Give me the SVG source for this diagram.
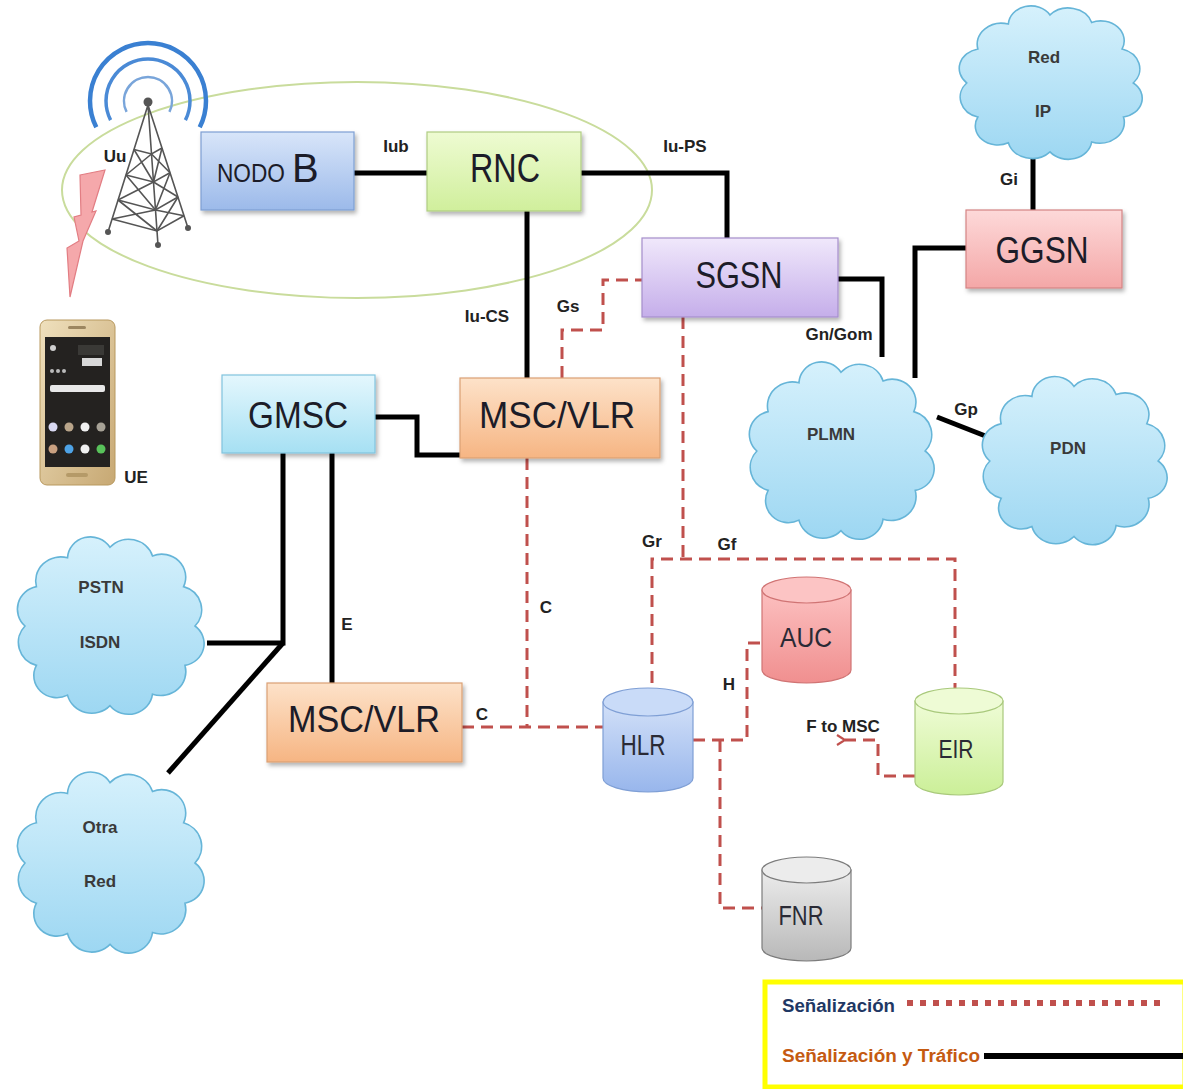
<svg xmlns="http://www.w3.org/2000/svg" xmlns:xlink="http://www.w3.org/1999/xlink" width="1183" height="1089" viewBox="0 0 1183 1089">
  <style>
    .box-text { font-family: "Liberation Sans", Arial, sans-serif; fill: #1c1c28; }
    .lbl { font-family: "Liberation Sans", Arial, sans-serif; font-weight: bold; font-size: 17px; fill: #222; text-anchor: middle; }
    .cloud-text { font-family: "Liberation Sans", Arial, sans-serif; font-weight: bold; font-size: 17px; fill: #3a3a3a; text-anchor: middle; }
    .traffic { fill: none; stroke: #000; stroke-width: 5; stroke-linejoin: miter; stroke-linecap: butt; }
    .signal { fill: none; stroke: #c0504d; stroke-width: 3; stroke-dasharray: 12 7; }
    .cyl-text { font-family: "Liberation Sans", Arial, sans-serif; fill: #2a2a35; text-anchor: middle; }
  </style>
  <defs>
    <filter id="shadow" x="-10%" y="-10%" width="130%" height="140%">
      <feDropShadow dx="2" dy="3" stdDeviation="2" flood-color="#000" flood-opacity="0.3"/>
    </filter>
    <linearGradient id="gNodoB" x1="0" y1="0" x2="0" y2="1"><stop offset="0" stop-color="#d8e5f9"/><stop offset="1" stop-color="#9cbaea"/></linearGradient>
    <linearGradient id="gRnc" x1="0" y1="0" x2="0" y2="1"><stop offset="0" stop-color="#eefbd2"/><stop offset="1" stop-color="#d0ef9c"/></linearGradient>
    <linearGradient id="gSgsn" x1="0" y1="0" x2="0" y2="1"><stop offset="0" stop-color="#f0e8fb"/><stop offset="1" stop-color="#c5aeea"/></linearGradient>
    <linearGradient id="gGgsn" x1="0" y1="0" x2="0" y2="1"><stop offset="0" stop-color="#fdd9d9"/><stop offset="1" stop-color="#f4a7a7"/></linearGradient>
    <linearGradient id="gMsc" x1="0" y1="0" x2="0" y2="1"><stop offset="0" stop-color="#fde2c9"/><stop offset="1" stop-color="#f6b583"/></linearGradient>
    <linearGradient id="gGmsc" x1="0" y1="0" x2="0" y2="1"><stop offset="0" stop-color="#e4f7fd"/><stop offset="1" stop-color="#a6e0f3"/></linearGradient>
    <linearGradient id="gHlr" x1="0" y1="0" x2="0" y2="1"><stop offset="0" stop-color="#d2e0f8"/><stop offset="1" stop-color="#98b6ec"/></linearGradient>
    <linearGradient id="gAuc" x1="0" y1="0" x2="0" y2="1"><stop offset="0" stop-color="#fcc0c0"/><stop offset="1" stop-color="#f08f8f"/></linearGradient>
    <linearGradient id="gEir" x1="0" y1="0" x2="0" y2="1"><stop offset="0" stop-color="#effcd6"/><stop offset="1" stop-color="#cbef98"/></linearGradient>
    <linearGradient id="gFnr" x1="0" y1="0" x2="0" y2="1"><stop offset="0" stop-color="#ececec"/><stop offset="1" stop-color="#b8b8b8"/></linearGradient>
    <linearGradient id="gCloud" x1="0" y1="0" x2="0" y2="1"><stop offset="0" stop-color="#d6f1fc"/><stop offset="1" stop-color="#9dd7f2"/></linearGradient>
    <linearGradient id="gPhone" x1="0" y1="0" x2="1" y2="1"><stop offset="0" stop-color="#efe0bd"/><stop offset="1" stop-color="#c7a873"/></linearGradient>
    <!-- bumpy cloud outline in a 200x200 box -->
    <path id="cloud" d="M100,18 A25,25 0 0 1 142.5,27 A24,24 0 0 1 173.6,59 A25,25 0 0 1 185,100 A23,23 0 0 1 175,141 A25,25 0 0 1 142.5,171 A24,24 0 0 1 100,183 A25,25 0 0 1 57.5,172 A23,23 0 0 1 26.4,141 A25,25 0 0 1 15,100 A24,24 0 0 1 26.4,59 A25,25 0 0 1 57.5,29 A23,23 0 0 1 100,18 Z" fill="url(#gCloud)" stroke="#66b5d8" stroke-width="1.6" vector-effect="non-scaling-stroke"/>
    <marker id="arrowRed" viewBox="0 0 12 12" refX="2" refY="6" markerWidth="12" markerHeight="12" markerUnits="userSpaceOnUse" orient="auto">
      <path d="M10,1 L2,6 L10,11" fill="none" stroke="#c0504d" stroke-width="2.2"/>
    </marker>
  </defs>

  <rect x="0" y="0" width="1183" height="1089" fill="#ffffff"/>

  <!-- radio access network ring -->
  <ellipse cx="357" cy="190" rx="295" ry="108" fill="none" stroke="#c9dc9c" stroke-width="2"/>

  <!-- antenna tower with radio waves -->
  <g id="tower">
    <path d="M96.3,127.3 A58,58 0 1 1 199.7,127.3" fill="none" stroke="#3a80d2" stroke-width="4.5"/>
    <path d="M110.6,120.1 A42,42 0 1 1 185.4,120.1" fill="none" stroke="#4a8ad6" stroke-width="3.5"/>
    <path d="M126.6,111.9 A24,24 0 1 1 169.4,111.9" fill="none" stroke="#79a5da" stroke-width="2.5"/>
    <g fill="none" stroke="#555" stroke-width="1.6">
      <path d="M148,105 L108,232 M148,105 L188,228 M148,105 L158,245"/>
      <path d="M134,149.5 L151.5,154 L162,148 M126,175 L153.5,182 L170,172.7 M118,200 L155.5,210 L178,197 M112,219 L157,231 L184,215.7"/>
      <path d="M134,149.5 L153.5,182 M151.5,154 L126,175 M151.5,154 L170,172.7 M162,148 L153.5,182 M126,175 L155.5,210 M153.5,182 L118,200 M153.5,182 L178,197 M170,172.7 L155.5,210 M118,200 L157,231 M155.5,210 L112,219 M155.5,210 L184,215.7 M178,197 L157,231"/>
    </g>
    <circle cx="148" cy="102" r="4.5" fill="#555"/>
    <circle cx="108" cy="232" r="3" fill="#555"/>
    <circle cx="188" cy="228" r="3" fill="#555"/>
    <circle cx="158" cy="245" r="3" fill="#555"/>
  </g>

  <!-- radio link bolt -->
  <polygon points="80,175 105,170 92,212 96,211 83,241 70,297 67,248 79,241 74,217 81,215" fill="#f5a8ab" stroke="#e27d83" stroke-width="1.2"/>

  <!-- user equipment -->
  <g id="ue">
    <rect x="40" y="320" width="75" height="165" rx="7" fill="url(#gPhone)" stroke="#b8995f" stroke-width="1"/>
    <rect x="45" y="337" width="65" height="130" fill="#242220"/>
    <rect x="68" y="326" width="18" height="3" rx="1.5" fill="#9c8660"/>
    <rect x="66" y="473" width="22" height="4" rx="2" fill="#b59a68"/>
    <rect x="78" y="345" width="26" height="10" fill="#3a3936"/>
    <rect x="82" y="358" width="20" height="8" fill="#d8d8d8"/>
    <rect x="50" y="385" width="55" height="7" rx="2" fill="#e8e8e8"/>
    <circle cx="53" cy="348" r="3" fill="#cfcfcf"/>
    <circle cx="52" cy="371" r="2" fill="#bbb"/>
    <circle cx="58" cy="371" r="2" fill="#bbb"/>
    <circle cx="64" cy="371" r="2" fill="#bbb"/>
    <circle cx="53" cy="427" r="4.5" fill="#d9d9f2"/>
    <circle cx="69" cy="427" r="4.5" fill="#b9a58a"/>
    <circle cx="85" cy="427" r="4.5" fill="#f0f0f0"/>
    <circle cx="101" cy="427" r="4.5" fill="#a7a296"/>
    <circle cx="53" cy="449" r="4.5" fill="#c9a080"/>
    <circle cx="69" cy="449" r="4.5" fill="#4ea3e6"/>
    <circle cx="85" cy="449" r="4.5" fill="#f0f0f0"/>
    <circle cx="101" cy="449" r="4.5" fill="#58c25a"/>
  </g>

  <!-- traffic and signalling connectors -->
  <g id="connectors">
    <path class="traffic" d="M354,173 H427"/>
    <path class="traffic" d="M581,173 H727 V238"/>
    <path class="traffic" d="M527,211 V378"/>
    <path class="traffic" d="M838,279 H882 V357"/>
    <path class="traffic" d="M966,248 H915 V378"/>
    <path class="traffic" d="M1033,150 V210"/>
    <path class="traffic" d="M937,417 L988,437"/>
    <path class="traffic" d="M375,417 H417 V455 H460"/>
    <path class="traffic" d="M283,453 V643 H207"/>
    <path class="traffic" d="M283,643 L168,773"/>
    <path class="traffic" d="M332,453 V683"/>

    <path class="signal" d="M562,378 V330 H603 V280 H642"/>
    <path class="signal" d="M527,458 V727"/>
    <path class="signal" d="M462,727 H604"/>
    <path class="signal" d="M683,317 V559"/>
    <path class="signal" d="M652,683 V559 H955 V690"/>
    <path class="signal" d="M693,740 H747 V643 H762"/>
    <path class="signal" d="M720,740 V908 H762"/>
    <path class="signal" d="M915,776 H878 V740 H845" marker-end="url(#arrowRed)"/>
  </g>

  <!-- interface labels -->
  <g id="labels">
    <text class="lbl" x="115" y="162" font-size="20">Uu</text>
    <text class="lbl" x="396" y="152" font-size="18">Iub</text>
    <text class="lbl" x="685" y="152" font-size="18">Iu-PS</text>
    <text class="lbl" x="487" y="322" font-size="18">Iu-CS</text>
    <text class="lbl" x="568" y="312">Gs</text>
    <text class="lbl" x="839" y="340">Gn/Gom</text>
    <text class="lbl" x="1009" y="185">Gi</text>
    <text class="lbl" x="966" y="415">Gp</text>
    <text class="lbl" x="347" y="630" font-size="15">E</text>
    <text class="lbl" x="546" y="613" font-size="15">C</text>
    <text class="lbl" x="482" y="720" font-size="15">C</text>
    <text class="lbl" x="652" y="547">Gr</text>
    <text class="lbl" x="727" y="550">Gf</text>
    <text class="lbl" x="729" y="690" font-size="16">H</text>
    <text class="lbl" x="843" y="732">F to MSC</text>
    <text class="lbl" x="136" y="483" font-size="21">UE</text>
  </g>

  <!-- access and core nodes -->
  <g id="nodo-b">
    <rect x="201" y="132" width="153" height="78" fill="url(#gNodoB)" stroke="#7e9ed2" stroke-width="1.2" filter="url(#shadow)"/>
    <text class="box-text" x="217" y="182" font-size="26" textLength="68" lengthAdjust="spacingAndGlyphs">NODO</text>
    <text class="box-text" x="292" y="182" font-size="40">B</text>
  </g>
  <g id="rnc">
    <rect x="427" y="132" width="154" height="79" fill="url(#gRnc)" stroke="#b0cc82" stroke-width="1.2" filter="url(#shadow)"/>
    <text class="box-text" x="505" y="182" font-size="40" text-anchor="middle" textLength="70" lengthAdjust="spacingAndGlyphs">RNC</text>
  </g>
  <g id="sgsn">
    <rect x="642" y="238" width="196" height="79" fill="url(#gSgsn)" stroke="#a58ecb" stroke-width="1.2" filter="url(#shadow)"/>
    <text class="box-text" x="739" y="288" font-size="37" text-anchor="middle" textLength="87" lengthAdjust="spacingAndGlyphs">SGSN</text>
  </g>
  <g id="ggsn">
    <rect x="966" y="210" width="156" height="78" fill="url(#gGgsn)" stroke="#d48484" stroke-width="1.2" filter="url(#shadow)"/>
    <text class="box-text" x="1042" y="263" font-size="36" text-anchor="middle" textLength="93" lengthAdjust="spacingAndGlyphs">GGSN</text>
  </g>
  <g id="gmsc">
    <rect x="222" y="375" width="153" height="78" fill="url(#gGmsc)" stroke="#80c4de" stroke-width="1.2" filter="url(#shadow)"/>
    <text class="box-text" x="298" y="428" font-size="36" text-anchor="middle" textLength="100" lengthAdjust="spacingAndGlyphs">GMSC</text>
  </g>
  <g id="msc-vlr-1">
    <rect x="460" y="378" width="200" height="80" fill="url(#gMsc)" stroke="#daa074" stroke-width="1.2" filter="url(#shadow)"/>
    <text class="box-text" x="557" y="428" font-size="37" text-anchor="middle" textLength="156" lengthAdjust="spacingAndGlyphs">MSC/VLR</text>
  </g>
  <g id="msc-vlr-2">
    <rect x="267" y="683" width="195" height="79" fill="url(#gMsc)" stroke="#daa074" stroke-width="1.2" filter="url(#shadow)"/>
    <text class="box-text" x="364" y="732" font-size="37" text-anchor="middle" textLength="152" lengthAdjust="spacingAndGlyphs">MSC/VLR</text>
  </g>

  <!-- databases -->
  <g id="hlr">
    <path d="M603,702 V778 A45,14 0 0 0 693,778 V702 Z" fill="url(#gHlr)" stroke="#7f9fd5" stroke-width="1.2"/>
    <ellipse cx="648" cy="702" rx="45" ry="14" fill="#c9dbf8" stroke="#7f9fd5" stroke-width="1.2"/>
    <text class="cyl-text" x="643" y="755" font-size="29" textLength="45" lengthAdjust="spacingAndGlyphs">HLR</text>
  </g>
  <g id="auc">
    <path d="M762,590 V670 A44.5,13 0 0 0 851,670 V590 Z" fill="url(#gAuc)" stroke="#d07474" stroke-width="1.2"/>
    <ellipse cx="806.5" cy="590" rx="44.5" ry="13" fill="#fcc4c4" stroke="#d07474" stroke-width="1.2"/>
    <text class="cyl-text" x="806" y="647" font-size="27" textLength="52" lengthAdjust="spacingAndGlyphs">AUC</text>
  </g>
  <g id="eir">
    <path d="M915,701 V782 A44,13 0 0 0 1003,782 V701 Z" fill="url(#gEir)" stroke="#a9c97c" stroke-width="1.2"/>
    <ellipse cx="959" cy="701" rx="44" ry="13" fill="#eefbd5" stroke="#a9c97c" stroke-width="1.2"/>
    <text class="cyl-text" x="956" y="758" font-size="26" textLength="35" lengthAdjust="spacingAndGlyphs">EIR</text>
  </g>
  <g id="fnr">
    <path d="M762,870 V948 A44.5,13 0 0 0 851,948 V870 Z" fill="url(#gFnr)" stroke="#7c7c7c" stroke-width="1.2"/>
    <ellipse cx="806.5" cy="870" rx="44.5" ry="13" fill="#ececec" stroke="#7c7c7c" stroke-width="1.2"/>
    <text class="cyl-text" x="801" y="925" font-size="27" textLength="45" lengthAdjust="spacingAndGlyphs">FNR</text>
  </g>

  <!-- external networks -->
  <g id="red-ip">
    <use href="#cloud" transform="translate(952,0) scale(0.98,0.83)"/>
    <text class="cloud-text" x="1044" y="63">Red</text>
    <text class="cloud-text" x="1043" y="117">IP</text>
  </g>
  <g id="plmn">
    <use href="#cloud" transform="translate(742,355) scale(0.99,0.96)"/>
    <text class="cloud-text" x="831" y="440">PLMN</text>
  </g>
  <g id="pdn">
    <use href="#cloud" transform="translate(975,370) scale(0.99,0.91)"/>
    <text class="cloud-text" x="1068" y="454">PDN</text>
  </g>
  <g id="pstn-isdn">
    <use href="#cloud" transform="translate(10,530) scale(1,0.96)"/>
    <text class="cloud-text" x="101" y="593">PSTN</text>
    <text class="cloud-text" x="100" y="648">ISDN</text>
  </g>
  <g id="otra-red">
    <use href="#cloud" transform="translate(10,765) scale(1,0.98)"/>
    <text class="cloud-text" x="100" y="833">Otra</text>
    <text class="cloud-text" x="100" y="887">Red</text>
  </g>

  <!-- line type legend -->
  <g id="legend">
    <rect x="765" y="982" width="420" height="105" fill="#ffffff" stroke="#ffff00" stroke-width="5"/>
    <text x="782" y="1012" font-family="Liberation Sans, Arial, sans-serif" font-weight="bold" font-size="18" fill="#1f3864" textLength="113" lengthAdjust="spacingAndGlyphs">Señalización</text>
    <line x1="907" y1="1003" x2="1167" y2="1003" stroke="#c0504d" stroke-width="6" stroke-dasharray="6 7"/>
    <text x="782" y="1062" font-family="Liberation Sans, Arial, sans-serif" font-weight="bold" font-size="18" fill="#c55a11" textLength="198" lengthAdjust="spacingAndGlyphs">Señalización y Tráfico</text>
    <line x1="984" y1="1056" x2="1183" y2="1056" stroke="#000" stroke-width="6"/>
  </g>
</svg>
